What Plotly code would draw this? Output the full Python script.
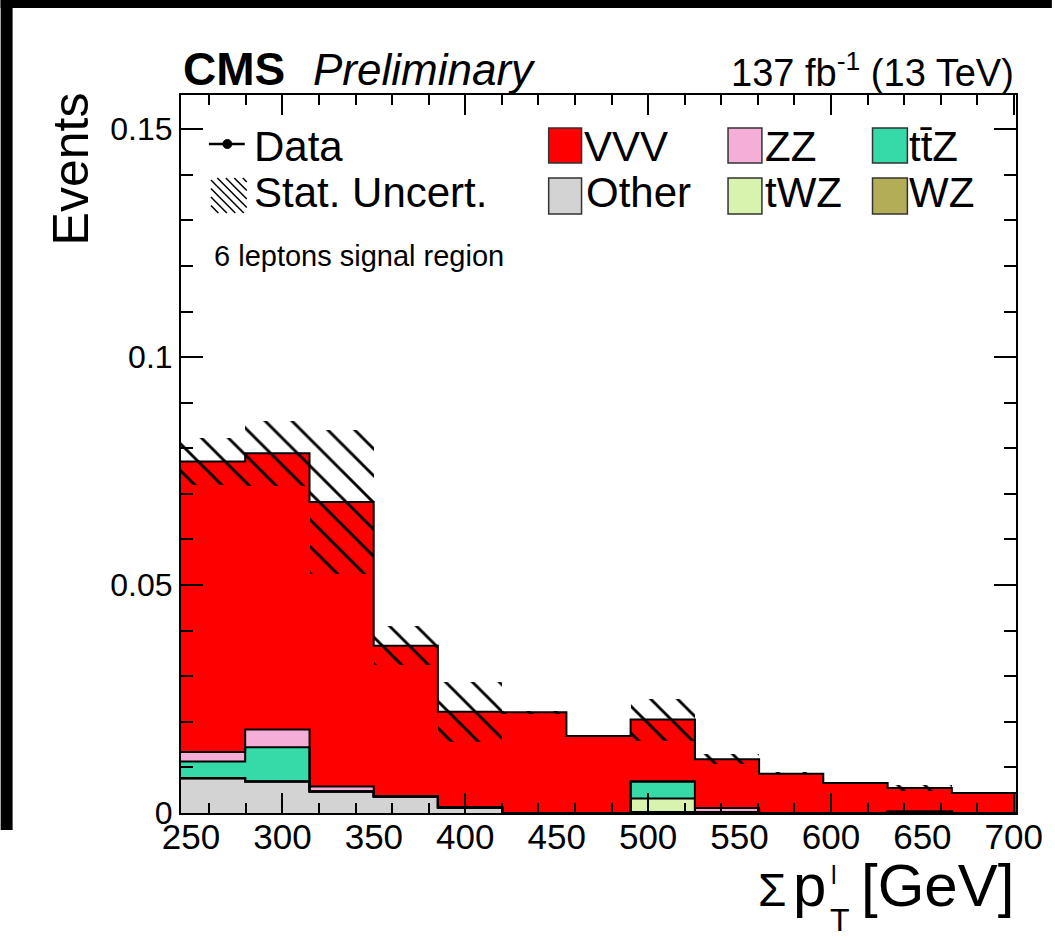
import numpy as np
import plotly.graph_objects as go

# ---------------- data ----------------
bin_edges = [244.5, 279.6, 314.8, 349.9, 385.0, 420.2, 455.3, 490.4,
             525.6, 560.7, 595.8, 631.0, 666.1, 701.2]
other = [0.0076, 0.0069, 0.0047, 0.0036, 0.0012, 0.0, 0.0, 0.0002, 0.0002, 0.0, 0.0, 0.0, 0.0]
wz    = [0.0, 0.0, 0.0, 0.0, 0.0, 0.0, 0.0, 0.0, 0.0, 0.0, 0.0, 0.0003, 0.0]
twz   = [0.0, 0.0, 0.0, 0.0, 0.0, 0.0, 0.0, 0.0030, 0.0, 0.0, 0.0, 0.0, 0.0]
ttz   = [0.0037, 0.0075, 0.0, 0.0, 0.0, 0.0, 0.0, 0.0037, 0.0, 0.0, 0.0, 0.0, 0.0]
zz    = [0.0021, 0.0039, 0.0011, 0.0, 0.0, 0.0, 0.0, 0.0, 0.0009, 0.0, 0.0, 0.0, 0.0]
vvv   = [0.0637, 0.0606, 0.0624, 0.0331, 0.0210, 0.0221, 0.0169, 0.0136, 0.0107, 0.0086, 0.0066, 0.0052, 0.0044]
stat_unc = [0.0052, 0.0071, 0.0158, 0.0043, 0.0066, 0.0003, 0.0003, 0.0046, 0.0011, 0.0003, 0.0002, 0.0006, 0.0001]

x_tick_labels = [250, 300, 350, 400, 450, 500, 550, 600, 650, 700]
y_tick_vals = [0, 0.05, 0.1, 0.15]
y_tick_text = ["0", "0.05", "0.1", "0.15"]

# stack order bottom -> top
stack = [
    ("Other", other, "#d3d3d3"),
    ("WZ", wz, "#b3ad58"),
    ("tWZ", twz, "#d8f3ae"),
    ("tt\u0304Z", ttz, "#35daa8"),
    ("ZZ", zz, "#f4aed7"),
    ("VVV", vvv, "#ff0000"),
]

FONT = "Liberation Sans"
W, H = 1055, 939
L, R, T, B = 181, 36, 95, 126
PW, PH = W - L - R, H - T - B


def px(x):
    return (x - L) / PW


def py(y):
    return (H - B - y) / PH


edges = np.array(bin_edges)
centers = 0.5 * (edges[:-1] + edges[1:])
widths = edges[1:] - edges[:-1]

fig = go.Figure()

cum = np.zeros(len(centers))
tops = []
for name, vals, col in stack:
    v = np.array(vals)
    fig.add_trace(go.Bar(x=centers, y=v, base=cum.copy(), width=widths,
                         marker=dict(color=col, line=dict(width=0)),
                         name=name, showlegend=False, hoverinfo="skip"))
    cum = cum + v
    tops.append(cum.copy())

# outlines (ROOT-like step lines)
for top in tops:
    fig.add_trace(go.Scatter(x=edges, y=np.append(top, top[-1]), mode="lines",
                             line=dict(color="black", width=2, shape="hv"),
                             showlegend=False, hoverinfo="skip"))

# stat uncertainty band
unc = np.array(stat_unc)
fig.add_trace(go.Bar(x=centers, y=2 * unc, base=cum - unc, width=widths,
                     marker=dict(color="rgba(0,0,0,0)", line=dict(width=0),
                                 pattern=dict(shape="\\", fgcolor="black",
                                              fgopacity=1,
                                              bgcolor="rgba(0,0,0,0)",
                                              size=19, solidity=0.15)),
                     name="Stat. Uncert.", showlegend=False, hoverinfo="skip"))

# hidden trace for label axis
fig.add_trace(go.Scatter(x=[bin_edges[0]], y=[0], xaxis="x2", mode="markers",
                         marker=dict(opacity=0), showlegend=False, hoverinfo="skip"))

xr = [bin_edges[0], bin_edges[-1]]
fig.update_layout(
    width=W, height=H,
    margin=dict(l=L, r=R, t=T, b=B),
    paper_bgcolor="white", plot_bgcolor="white",
    barmode="overlay", bargap=0,
    font=dict(family=FONT, color="black"),
    xaxis=dict(range=xr, showgrid=False, zeroline=False,
               showline=True, linecolor="black", linewidth=2, mirror="ticks",
               ticks="inside", tickvals=[300, 400, 500, 600, 700], ticklen=20,
               tickwidth=2, tickcolor="black", showticklabels=False,
               minor=dict(ticks="inside", dtick=20, tick0=0, ticklen=10,
                          tickwidth=2, tickcolor="black", showgrid=False)),
    xaxis2=dict(range=xr, overlaying="x", anchor="y", side="bottom",
                showgrid=False, zeroline=False, showline=False, ticks="",
                tickvals=x_tick_labels, ticktext=[str(v) for v in x_tick_labels],
                tickfont=dict(size=35, family=FONT, color="black")),
    yaxis=dict(range=[0, 0.1575], showgrid=False, zeroline=False,
               showline=True, linecolor="black", linewidth=2, mirror="ticks",
               ticks="inside", tickvals=y_tick_vals, ticktext=y_tick_text,
               ticklen=22, tickwidth=2, tickcolor="black",
               tickfont=dict(size=32, family=FONT, color="black"),
               minor=dict(ticks="inside", dtick=0.01, tick0=0, ticklen=12,
                          tickwidth=2, tickcolor="black", showgrid=False)),
)

annotations = []
shapes = []


def ann(text, x, baseline, size, xanchor="left", **kw):
    annotations.append(dict(text=text, x=px(x), y=py(baseline - 0.35 * size),
                            xref="paper", yref="paper", xanchor=xanchor,
                            yanchor="middle", showarrow=False,
                            font=dict(family=FONT, size=size, color="black"), **kw))


# header
ann("<b>CMS</b>", 181, 85, 46)
ann("<i>Preliminary</i>", 311, 85, 44)
ann("137 fb<sup>-1</sup> (13 TeV)", 1019, 83, 38, xanchor="right")

# y title
annotations.append(dict(text="Events", x=px(71), y=py(169), xref="paper", yref="paper",
                        xanchor="center", yanchor="middle", textangle=-90,
                        showarrow=False, font=dict(family=FONT, size=50, color="black")))

# x title pieces (sub- and superscript stacked as in ROOT)
ann("\u03a3", 790, 906, 46, xanchor="right")
ann("p", 830, 906, 60, xanchor="right")
ann("l", 831, 884, 25)
ann("T", 830, 931, 32)
ann("[GeV]", 1019, 906, 60, xanchor="right")

# region label
ann("6 leptons signal region", 212, 266, 29)

# legend
row1, row2 = 161, 207
ann("Data", 252, row1, 42)
ann("Stat. Uncert.", 252, row2, 42)
leg_cols = {"VVV": (550, 583, 583, 1), "ZZ": (730, 764, 765, 1), "tt\u0304Z": (875, 910, 910, 1),
            "Other": (550, 583, 585, 2), "tWZ": (730, 764, 765, 2), "WZ": (875, 910, 910, 2)}
colmap = {n: c for n, _, c in stack}
for name, (x0, x1, tx, row) in leg_cols.items():
    y0, y1 = (128, 163) if row == 1 else (178, 214)
    shapes.append(dict(type="rect", xref="paper", yref="paper",
                       x0=px(x0), x1=px(x1), y0=py(y1), y1=py(y0),
                       fillcolor=colmap[name], line=dict(color="#333333", width=1.5)))
    ann(name, tx, row1 if row == 1 else row2, 42)

# data marker in legend
shapes.append(dict(type="line", xref="paper", yref="paper", x0=px(209), x1=px(245),
                   y0=py(144), y1=py(144), line=dict(color="black", width=2.5)))
shapes.append(dict(type="circle", xref="paper", yref="paper", x0=px(223), x1=px(232),
                   y0=py(148.5), y1=py(139.5), fillcolor="black", line=dict(color="black", width=1)))

# hatch swatch
hx0, hx1, hy0, hy1 = 211, 247, 178, 213
for k in np.arange(hy0 - hx1 + 4, hy1 - hx0 - 3, 8.5):
    xa = max(hx0, hy0 - k)
    xb = min(hx1, hy1 - k)
    if xb - xa < 1:
        continue
    shapes.append(dict(type="line", xref="paper", yref="paper",
                       x0=px(xa), y0=py(xa + k), x1=px(xb), y1=py(xb + k),
                       line=dict(color="black", width=1.5)))

# black screenshot frame
shapes.append(dict(type="rect", xref="paper", yref="paper", x0=px(0), x1=px(W),
                   y0=py(8), y1=py(0), fillcolor="black", line=dict(width=0), layer="above"))
shapes.append(dict(type="rect", xref="paper", yref="paper", x0=px(0), x1=px(12),
                   y0=py(830), y1=py(0), fillcolor="black", line=dict(width=0), layer="above"))

fig.update_layout(annotations=annotations, shapes=shapes)
fig.write_html("out.html")
